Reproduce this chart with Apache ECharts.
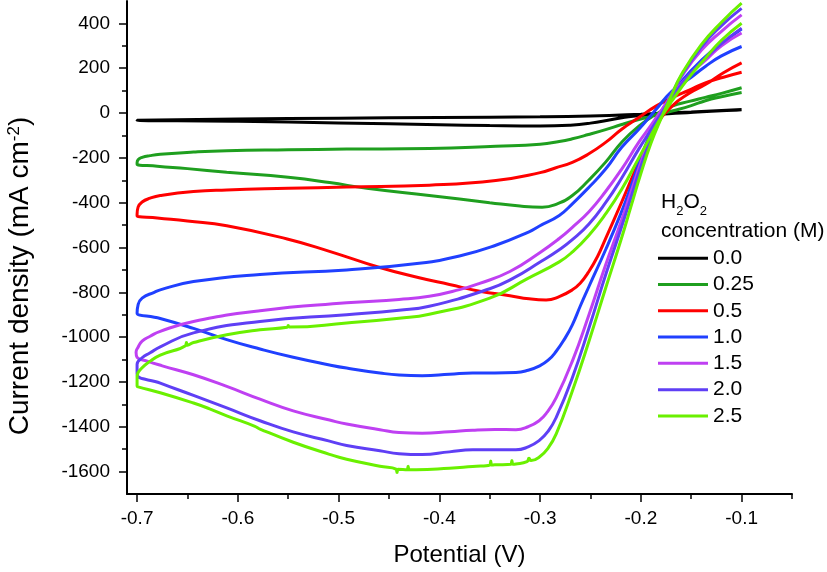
<!DOCTYPE html>
<html><head><meta charset="utf-8">
<script src="https://cdn.jsdelivr.net/npm/echarts@6/dist/echarts.min.js"></script>
<style>html,body{margin:0;padding:0;background:#fff}#c{width:827px;height:572px}</style>
</head><body><div id="c"></div>
<script>
const seriesNames = ['0.0', '0.25', '0.5', '1.0', '1.5', '2.0', '2.5'];
const seriesColors = ['#000000', '#1f9f1f', '#ff0000', '#2040ff', '#bf40f2', '#5f3ff5', '#6af000'];
const xTickLabels = [-0.7, -0.6, -0.5, -0.4, -0.3, -0.2, -0.1];
const xMinorTicks = [-0.65, -0.55, -0.45, -0.35, -0.25, -0.15, -0.05];
const yTickLabels = [-1600, -1400, -1200, -1000, -800, -600, -400, -200, 0, 200, 400];
const yMinorTicks = [-1500, -1300, -1100, -900, -700, -500, -300, -100, 100, 300];

// Each scan: [potential (V), current density (mA cm^-2)], cathodic branch from -0.1 to -0.7 then return to -0.1
const scan_0_0 = [[-0.1,14],[-0.13,8],[-0.16,0],[-0.19,-8],[-0.21,-15],[-0.23,-30],[-0.25,-45],[-0.27,-54],[-0.3,-58],[-0.35,-56],[-0.4,-52],[-0.5,-44],[-0.6,-37],[-0.7,-32],
  [-0.7,-30],[-0.6,-27],[-0.5,-23],[-0.4,-20],[-0.3,-17],[-0.25,-13],[-0.2,-5],[-0.15,5],[-0.1,16]];
const scan_0_25 = [[-0.1,113],[-0.12,88],[-0.136,70],[-0.152,52],[-0.169,31],[-0.185,-6],[-0.202,-58],[-0.219,-130],[-0.235,-219],[-0.252,-301],[-0.268,-368],[-0.283,-405],[-0.298,-420],[-0.32,-415],[-0.35,-400],[-0.41,-368],[-0.472,-336],[-0.509,-310],[-0.55,-287],[-0.611,-264],[-0.65,-248],[-0.68,-237],[-0.7,-228],
  [-0.7,-222],[-0.699,-208],[-0.695,-198],[-0.687,-190],[-0.677,-184],[-0.644,-174],[-0.611,-168],[-0.55,-164],[-0.492,-161],[-0.41,-158],[-0.344,-148],[-0.3,-139],[-0.281,-127],[-0.268,-115],[-0.252,-96],[-0.235,-74],[-0.219,-51],[-0.202,-29],[-0.185,-10],[-0.169,9],[-0.15,33],[-0.136,55],[-0.12,73],[-0.1,92]];
const scan_0_5 = [[-0.1,224],[-0.118,180],[-0.136,127],[-0.152,88],[-0.169,31],[-0.185,-58],[-0.202,-219],[-0.219,-397],[-0.235,-560],[-0.243,-640],[-0.252,-710],[-0.26,-758],[-0.268,-789],[-0.281,-819],[-0.294,-834],[-0.311,-829],[-0.33,-815],[-0.36,-795],[-0.39,-765],[-0.42,-735],[-0.46,-688],[-0.509,-617],[-0.551,-562],[-0.611,-503],[-0.65,-482],[-0.68,-468],[-0.7,-458],
  [-0.7,-452],[-0.699,-420],[-0.695,-397],[-0.687,-380],[-0.677,-368],[-0.644,-350],[-0.611,-343],[-0.55,-336],[-0.492,-330],[-0.41,-322],[-0.344,-301],[-0.3,-266],[-0.285,-245],[-0.268,-220],[-0.252,-183],[-0.235,-131],[-0.219,-72],[-0.202,-20],[-0.185,31],[-0.169,68],[-0.152,102],[-0.136,135],[-0.118,160],[-0.1,182]];
const scan_1_0 = [[-0.1,375],[-0.12,310],[-0.14,235],[-0.16,140],[-0.17,75],[-0.18,5],[-0.19,-85],[-0.2,-200],[-0.21,-330],[-0.22,-450],[-0.235,-610],[-0.2515,-774],[-0.26,-860],[-0.268,-945],[-0.276,-1010],[-0.284,-1063],[-0.292,-1103],[-0.301,-1129],[-0.312,-1148],[-0.324,-1158],[-0.345,-1160],[-0.367,-1160],[-0.39,-1166],[-0.417,-1172],[-0.44,-1169],[-0.459,-1160],[-0.492,-1138],[-0.509,-1124],[-0.545,-1090],[-0.578,-1053],[-0.611,-1011],[-0.644,-961],[-0.677,-917],[-0.7,-893],
  [-0.7,-890],[-0.699,-856],[-0.695,-826],[-0.683,-800],[-0.677,-789],[-0.644,-752],[-0.578,-720],[-0.492,-700],[-0.42,-670],[-0.38,-638],[-0.344,-590],[-0.311,-530],[-0.301,-505],[-0.281,-457],[-0.268,-405],[-0.2515,-331],[-0.235,-250],[-0.219,-153],[-0.202,-72],[-0.185,16],[-0.169,98],[-0.15,160],[-0.136,208],[-0.12,255],[-0.1,297]];
const scan_1_5 = [[-0.1,438],[-0.12,365],[-0.14,280],[-0.16,160],[-0.17,80],[-0.18,-5],[-0.19,-100],[-0.2,-220],[-0.21,-355],[-0.22,-490],[-0.235,-678],[-0.2515,-900],[-0.268,-1107],[-0.284,-1270],[-0.293,-1335],[-0.301,-1373],[-0.312,-1400],[-0.324,-1413],[-0.345,-1412],[-0.367,-1415],[-0.39,-1422],[-0.417,-1429],[-0.44,-1426],[-0.459,-1413],[-0.492,-1388],[-0.509,-1370],[-0.545,-1329],[-0.578,-1277],[-0.611,-1220],[-0.644,-1168],[-0.675,-1128],[-0.69,-1107],[-0.7,-1090],
  [-0.701,-1068],[-0.699,-1045],[-0.695,-1018],[-0.687,-996],[-0.677,-974],[-0.644,-930],[-0.578,-882],[-0.492,-847],[-0.44,-832],[-0.41,-818],[-0.38,-788],[-0.36,-760],[-0.33,-707],[-0.3,-622],[-0.281,-560],[-0.268,-510],[-0.2515,-440],[-0.235,-350],[-0.219,-250],[-0.202,-130],[-0.19,-55],[-0.18,10],[-0.169,80],[-0.152,170],[-0.136,235],[-0.12,300],[-0.1,357]];
const scan_2_0 = [[-0.1,467],[-0.12,390],[-0.14,295],[-0.16,165],[-0.17,75],[-0.18,-15],[-0.19,-115],[-0.2,-240],[-0.21,-380],[-0.22,-520],[-0.235,-723],[-0.2515,-959],[-0.268,-1181],[-0.284,-1358],[-0.292,-1420],[-0.301,-1462],[-0.312,-1490],[-0.324,-1503],[-0.345,-1502],[-0.367,-1503],[-0.39,-1512],[-0.417,-1524],[-0.44,-1520],[-0.459,-1507],[-0.492,-1484],[-0.509,-1464],[-0.545,-1423],[-0.578,-1373],[-0.611,-1316],[-0.644,-1260],[-0.677,-1205],[-0.7,-1163],
  [-0.7,-1122],[-0.695,-1092],[-0.687,-1070],[-0.677,-1043],[-0.644,-981],[-0.578,-930],[-0.492,-900],[-0.44,-880],[-0.41,-862],[-0.35,-784],[-0.327,-738],[-0.3,-665],[-0.281,-610],[-0.268,-565],[-0.2515,-495],[-0.235,-400],[-0.219,-290],[-0.202,-160],[-0.19,-75],[-0.18,-5],[-0.169,70],[-0.152,170],[-0.136,245],[-0.12,310],[-0.1,379]];
const scan_2_5 = [[-0.1,490],[-0.12,405],[-0.14,305],[-0.16,170],[-0.17,75],[-0.18,-25],[-0.19,-135],[-0.2,-270],[-0.21,-420],[-0.22,-570],[-0.235,-782],[-0.2515,-1018],[-0.268,-1240],[-0.284,-1432],[-0.292,-1495],[-0.301,-1536],[-0.309,-1551],[-0.311,-1541],[-0.313,-1556],[-0.324,-1566],[-0.327,-1567],[-0.328,-1551],[-0.329,-1567],[-0.345,-1570],[-0.348,-1571],[-0.349,-1553],[-0.35,-1571],[-0.367,-1577],[-0.39,-1585],[-0.423,-1592],[-0.43,-1592],[-0.431,-1576],[-0.432,-1592],[-0.441,-1590],[-0.442,-1604],[-0.443,-1589],[-0.459,-1576],[-0.492,-1545],[-0.509,-1523],[-0.545,-1469],[-0.578,-1410],[-0.583,-1398],[-0.611,-1351],[-0.628,-1320],[-0.644,-1294],[-0.677,-1248],[-0.699,-1222],[-0.7,-1218],
  [-0.7,-1173],[-0.695,-1137],[-0.687,-1107],[-0.677,-1080],[-0.652,-1038],[-0.651,-1024],[-0.65,-1036],[-0.644,-1024],[-0.611,-989],[-0.578,-967],[-0.551,-956],[-0.55,-948],[-0.549,-955],[-0.492,-937],[-0.44,-916],[-0.41,-898],[-0.35,-826],[-0.313,-740],[-0.281,-664],[-0.268,-620],[-0.2515,-545],[-0.235,-450],[-0.219,-340],[-0.202,-200],[-0.19,-100],[-0.18,-20],[-0.169,55],[-0.152,160],[-0.136,245],[-0.12,325],[-0.1,401]];
const scans = [scan_0_0, scan_0_25, scan_0_5, scan_1_0, scan_1_5, scan_2_0, scan_2_5];

const FONT = '"Liberation Sans", Arial, sans-serif';
const chart = echarts.init(document.getElementById('c'), null, {renderer: 'canvas'});
const axisLineStyle = {color: '#000', width: 2};
chart.setOption({
  animation: false,
  backgroundColor: '#fff',
  grid: {left: 127, right: 35, top: 1, bottom: 75},
  xAxis: [{
    type: 'value', min: -0.71, max: -0.05, position: 'bottom',
    axisLine: {show: true, onZero: false, lineStyle: axisLineStyle},
    axisTick: {show: true, customValues: xTickLabels, length: 8, lineStyle: {color: '#000', width: 1.5}},
    axisLabel: {customValues: xTickLabels, formatter: v => v.toFixed(1), color: '#000', fontSize: 19, fontFamily: FONT, margin: 15},
    splitLine: {show: false},
    name: 'Potential (V)', nameLocation: 'middle', nameGap: 49,
    nameTextStyle: {color: '#000', fontSize: 24, fontFamily: FONT}
  }, {
    type: 'value', min: -0.71, max: -0.05, position: 'bottom',
    axisLine: {show: false, onZero: false},
    axisTick: {show: true, customValues: xMinorTicks, length: 5, lineStyle: {color: '#000', width: 1.5}},
    axisLabel: {show: false}, splitLine: {show: false}
  }],
  yAxis: [{
    type: 'value', min: -1700, max: 500, position: 'left',
    axisLine: {show: true, onZero: false, lineStyle: axisLineStyle},
    axisTick: {show: true, customValues: yTickLabels, length: 8, lineStyle: {color: '#000', width: 1.5}},
    axisLabel: {customValues: yTickLabels, formatter: v => String(Math.round(v)), color: '#000', fontSize: 19, fontFamily: FONT, margin: 17},
    splitLine: {show: false}
  }, {
    type: 'value', min: -1700, max: 500, position: 'left',
    axisLine: {show: false, onZero: false},
    axisTick: {show: true, customValues: yMinorTicks, length: 5, lineStyle: {color: '#000', width: 1.5}},
    axisLabel: {show: false}, splitLine: {show: false}
  }],
  legend: {
    orient: 'vertical', left: 658, top: 245, padding: 0, itemGap: 0,
    itemWidth: 50, itemHeight: 3, icon: 'rect',
    textStyle: {color: '#000', fontSize: 21, lineHeight: 26.3, fontFamily: FONT},
    data: seriesNames
  },
  graphic: [
    {type: 'text', x: 20, y: 276, rotation: Math.PI / 2,
     style: {text: '{a|Current density (mA cm}{s|-2}{a|)}', align: 'center', verticalAlign: 'middle',
       rich: {a: {fontSize: 28, lineHeight: 28, fontFamily: FONT, fill: '#000', verticalAlign: 'bottom'},
              s: {fontSize: 17, lineHeight: 12, fontFamily: FONT, fill: '#000', verticalAlign: 'top'}}}},
    {type: 'text', x: 661, y: 191.5,
     style: {text: '{a|H}{b|2}{a|O}{b|2}', align: 'left', verticalAlign: 'top',
       rich: {a: {fontSize: 21, lineHeight: 21, fontFamily: FONT, fill: '#000', verticalAlign: 'top'},
              b: {fontSize: 13, lineHeight: 40, fontFamily: FONT, fill: '#000'}}}},
    {type: 'text', x: 661, y: 231,
     style: {text: 'concentration (M)', align: 'left', verticalAlign: 'middle', fontSize: 21, fontFamily: FONT, fill: '#000'}}
  ],
  series: scans.map((d, i) => ({
    name: seriesNames[i], type: 'line', data: d, xAxisIndex: 0, yAxisIndex: 0,
    showSymbol: false, smooth: 0.5, color: seriesColors[i],
    lineStyle: {width: 3, color: seriesColors[i]}
  }))
});
</script></body></html>
